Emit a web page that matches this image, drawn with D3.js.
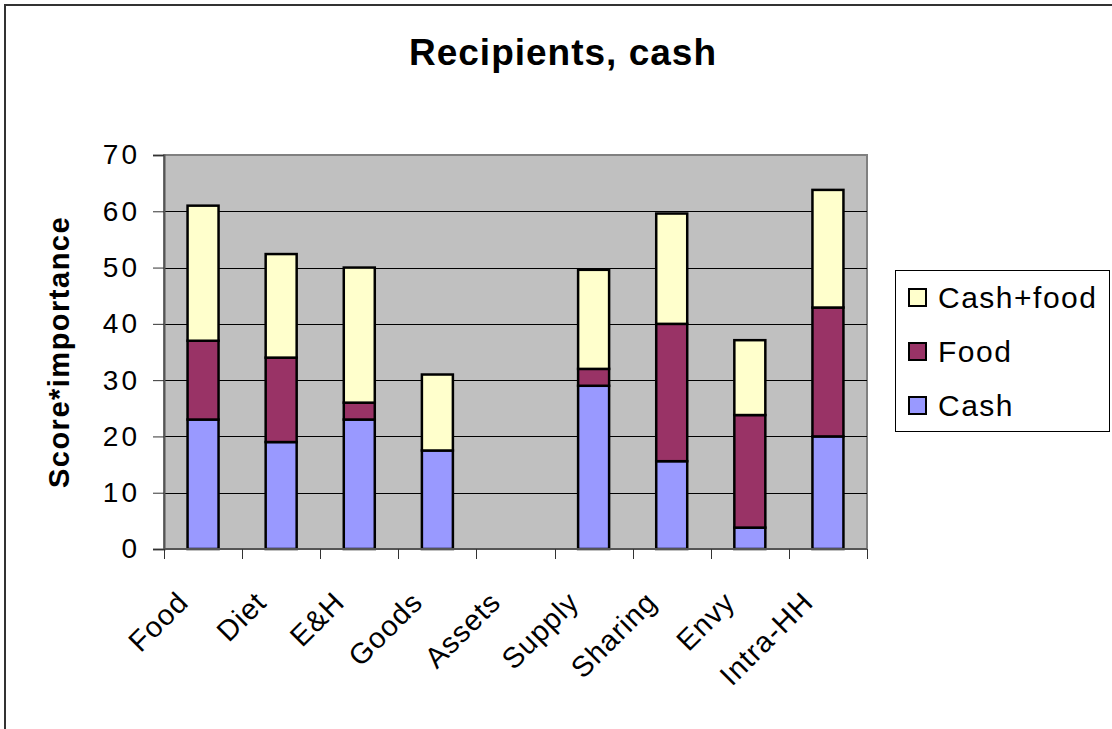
<!DOCTYPE html>
<html>
<head>
<meta charset="utf-8">
<script src="https://cdn.jsdelivr.net/npm/d3@7"></script>
<style>
  html, body { margin: 0; padding: 0; background: #fff; }
  svg { display: block; }
  text { font-family: "Liberation Sans", Arial, Helvetica, sans-serif; fill: #000; }
</style>
</head>
<body>
<svg id="chart" width="1112" height="729"></svg>
<script>
// Stacked scores per outcome area, recipients of cash
const categories = ["Food", "Diet", "E&H", "Goods", "Assets", "Supply", "Sharing", "Envy", "Intra-HH"];
const cash      = [23, 19, 23, 17.5, 0, 29, 15.6, 3.8, 20];
const food      = [14, 15, 3, 0, 0, 3, 24.4, 20, 22.9];
const cashFood  = [24, 18.4, 24, 13.5, 0, 17.6, 19.6, 13.3, 20.9];
const seriesNames = ["Cash", "Food", "Cash+food"];
const seriesColors = ["#9999FF", "#993366", "#FFFFCC"];
const yTicks = [0, 10, 20, 30, 40, 50, 60, 70];

const svg = d3.select("#chart");

// outer chart frame
svg.append("rect")
  .attr("x", 5).attr("y", 5).attr("width", 1130).attr("height", 740)
  .attr("fill", "#fff").attr("stroke", "#333").attr("stroke-width", 2);

const plot = { left: 164, right: 867, top: 155, bottom: 549 };

const x = d3.scaleBand().domain(categories).range([plot.left, plot.right]).paddingInner(0).paddingOuter(0);
const y = d3.scaleLinear().domain([0, 70]).range([plot.bottom, plot.top]);

// plot area background
svg.append("rect")
  .attr("x", plot.left).attr("y", plot.top)
  .attr("width", plot.right - plot.left).attr("height", plot.bottom - plot.top)
  .attr("fill", "#C0C0C0").attr("stroke", "#808080").attr("stroke-width", 2);

// horizontal gridlines
svg.append("g")
  .selectAll("line")
  .data(yTicks.filter(t => t > 0 && t < 70))
  .join("line")
  .attr("x1", plot.left).attr("x2", plot.right)
  .attr("y1", d => Math.round(y(d)) + 0.5).attr("y2", d => Math.round(y(d)) + 0.5)
  .attr("stroke", "#000").attr("stroke-width", 1);

// stacked bars
const table = categories.map((c, i) => ({ cat: c, Cash: cash[i], Food: food[i], "Cash+food": cashFood[i] }));
const stack = d3.stack().keys(seriesNames)(table);
const barW = 31;

svg.append("g")
  .selectAll("g")
  .data(stack)
  .join("g")
  .attr("fill", (d, i) => seriesColors[i])
  .selectAll("rect")
  .data(d => d.filter(s => s[1] - s[0] > 0))
  .join("rect")
  .attr("x", d => x(d.data.cat) + x.bandwidth() / 2 - barW / 2)
  .attr("y", d => y(d[1]))
  .attr("width", barW)
  .attr("height", d => y(d[0]) - y(d[1]))
  .attr("stroke", "#000").attr("stroke-width", 2.5);

// y axis
const yAxis = svg.append("g")
  .attr("transform", `translate(${plot.left},0)`)
  .call(d3.axisLeft(y).tickValues(yTicks).tickSize(11).tickPadding(13));
yAxis.select(".domain").attr("stroke", "#555").attr("stroke-width", 2);
yAxis.selectAll(".tick line").attr("stroke", "#333").attr("stroke-width", 1);
yAxis.selectAll(".tick text")
  .style("font-size", "28px").style("font-family", "Liberation Sans, Arial, sans-serif")
  .style("letter-spacing", "3px")
  .attr("fill", "#000");

// x axis: ticks at category boundaries
const boundaries = categories.map(c => x(c)).concat([plot.right]);
const xAxisG = svg.append("g");
xAxisG.append("line")
  .attr("x1", plot.left).attr("x2", plot.right)
  .attr("y1", plot.bottom).attr("y2", plot.bottom)
  .attr("stroke", "#555").attr("stroke-width", 2);
xAxisG.selectAll("line.tick")
  .data(boundaries)
  .join("line")
  .attr("class", "tick")
  .attr("x1", d => Math.round(d) + 0.5).attr("x2", d => Math.round(d) + 0.5)
  .attr("y1", plot.bottom).attr("y2", plot.bottom + 10)
  .attr("stroke", "#333").attr("stroke-width", 1);

// rotated category labels
xAxisG.selectAll("text")
  .data(categories)
  .join("text")
  .attr("transform", d => `translate(${x(d) + x.bandwidth() / 2 - 13},${plot.bottom + 55}) rotate(-45)`)
  .attr("text-anchor", "end")
  .style("font-size", "29px")
  .style("letter-spacing", "1px")
  .text(d => d);

// y axis title
svg.append("text")
  .attr("transform", `translate(69,${(plot.top + plot.bottom) / 2}) rotate(-90)`)
  .attr("text-anchor", "middle")
  .style("font-size", "29px").style("font-weight", "bold")
  .style("letter-spacing", "1.5px")
  .text("Score*importance");

// chart title
svg.append("text")
  .attr("x", 563).attr("y", 65)
  .attr("text-anchor", "middle")
  .style("font-size", "37px").style("font-weight", "bold")
  .style("letter-spacing", "1px")
  .text("Recipients, cash");

// legend (listed top-down in reverse stacking order)
const legend = svg.append("g");
legend.append("rect")
  .attr("x", 895.5).attr("y", 270.5).attr("width", 214).attr("height", 161)
  .attr("fill", "#fff").attr("stroke", "#000").attr("stroke-width", 1);

const legendItems = seriesNames.map((n, i) => ({ name: n, color: seriesColors[i] })).reverse();
const li = legend.selectAll("g.item")
  .data(legendItems)
  .join("g")
  .attr("class", "item")
  .attr("transform", (d, i) => `translate(909,${297 + i * 54})`);
li.append("rect")
  .attr("x", 0).attr("y", -8).attr("width", 17).attr("height", 17)
  .attr("fill", d => d.color).attr("stroke", "#000").attr("stroke-width", 2);
li.append("text")
  .attr("x", 29).attr("y", 0).attr("dy", "0.36em")
  .style("font-size", "30px")
  .style("letter-spacing", "1.5px")
  .text(d => d.name);
</script>
</body>
</html>
